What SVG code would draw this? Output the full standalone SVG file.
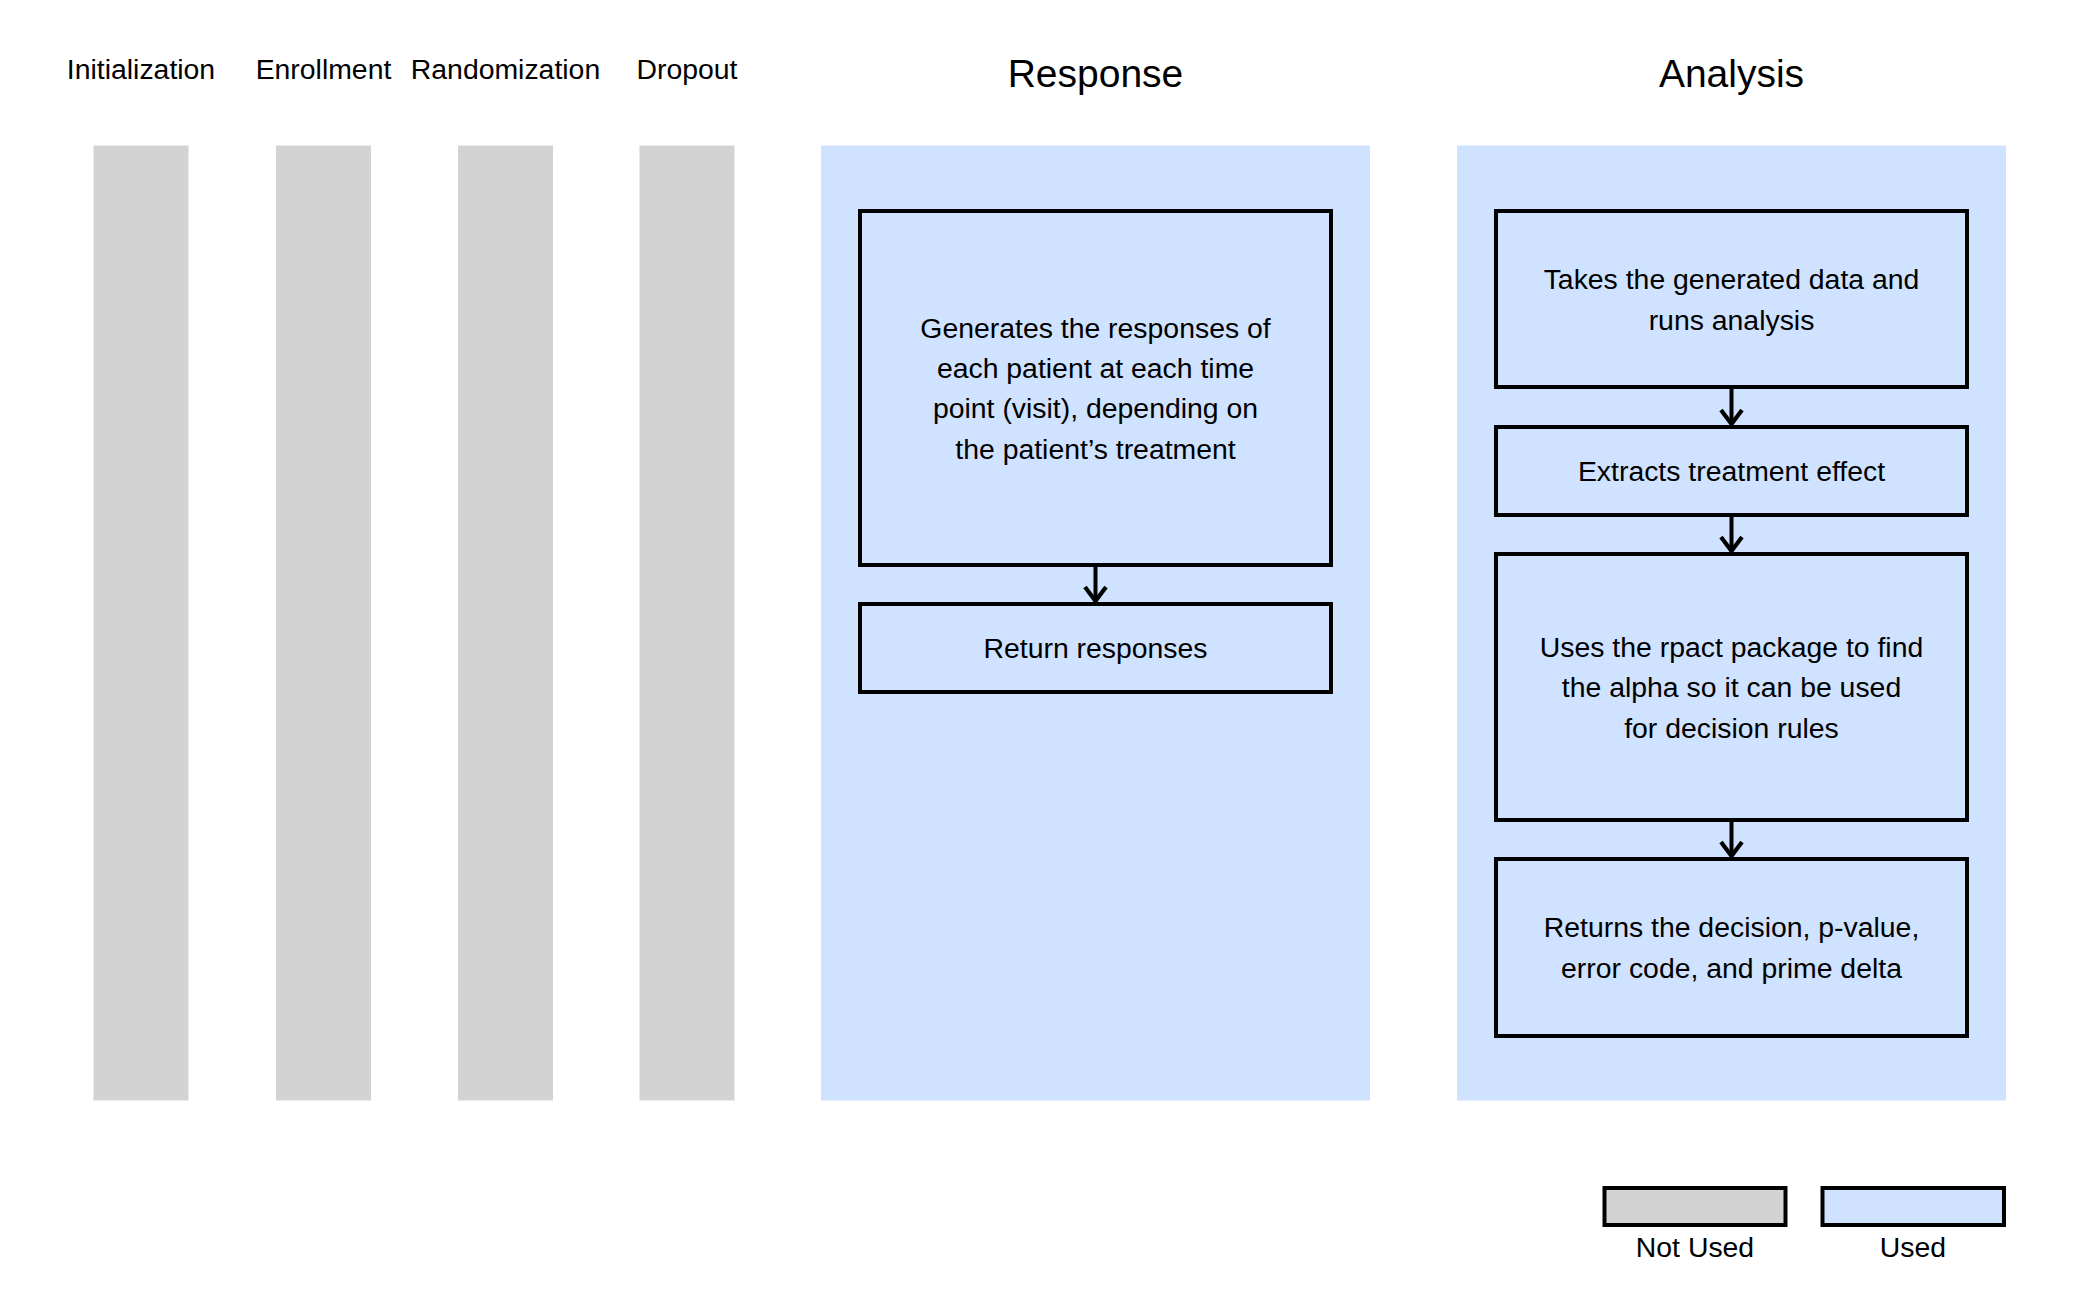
<svg xmlns="http://www.w3.org/2000/svg" width="2100" height="1297" viewBox="0 0 2100 1297">
<style>
text{font-family:"Liberation Sans",Arial,sans-serif;fill:#000;text-anchor:middle}
.lab{font-size:28.4px}
.ttl{font-size:39px}
.t{font-size:28.4px}
.bar{fill:#D3D3D3}
.pan{fill:#CFE2FF}
.box{fill:#CFE2FF;stroke:#000;stroke-width:4}
.lg0{fill:#D3D3D3;stroke:#000;stroke-width:4}
.lg1{fill:#CFE2FF;stroke:#000;stroke-width:4}
.con{fill:none;stroke:#000;stroke-width:4}
</style>
<defs>
<marker id="arr" markerUnits="userSpaceOnUse" markerWidth="26" markerHeight="26" refX="20" refY="13" orient="auto" viewBox="0 0 26 26">
<path d="M6 2.5 L20 13 L6 23.5" fill="none" stroke="#000" stroke-width="4.2"/>
</marker>
</defs>
<rect width="2100" height="1297" fill="#fff"/>
<g id="lane-initialization"><rect class="bar" x="93.5" y="145.5" width="95" height="955"/><text class="lab" x="141" y="79">Initialization</text></g>
<g id="lane-enrollment"><rect class="bar" x="276" y="145.5" width="95" height="955"/><text class="lab" x="323.5" y="79">Enrollment</text></g>
<g id="lane-randomization"><rect class="bar" x="458" y="145.5" width="95" height="955"/><text class="lab" x="505.5" y="79">Randomization</text></g>
<g id="lane-dropout"><rect class="bar" x="639.5" y="145.5" width="95" height="955"/><text class="lab" x="687" y="79">Dropout</text></g>
<g id="lane-response"><rect class="pan" x="821" y="145.5" width="549" height="955"/><text class="ttl" x="1095.5" y="87">Response</text></g>
<g id="lane-analysis"><rect class="pan" x="1457" y="145.5" width="549" height="955"/><text class="ttl" x="1731.5" y="87">Analysis</text></g>
<g id="resp-generate"><rect class="box" x="860" y="211" width="471" height="354"/>
<text class="t" x="1095.5" y="338">Generates the responses of</text>
<text class="t" x="1095.5" y="378">each patient at each time</text>
<text class="t" x="1095.5" y="418">point (visit), depending on</text>
<text class="t" x="1095.5" y="459">the patient’s treatment</text></g>
<g id="resp-return"><rect class="box" x="860" y="604" width="471" height="88"/>
<text class="t" x="1095.5" y="658">Return responses</text></g>
<g id="an-takes"><rect class="box" x="1496" y="211" width="471" height="176"/>
<text class="t" x="1731.5" y="289">Takes the generated data and</text>
<text class="t" x="1731.5" y="330">runs analysis</text></g>
<g id="an-extract"><rect class="box" x="1496" y="427" width="471" height="88"/>
<text class="t" x="1731.5" y="481">Extracts treatment effect</text></g>
<g id="an-rpact"><rect class="box" x="1496" y="554" width="471" height="266"/>
<text class="t" x="1731.5" y="657">Uses the rpact package to find</text>
<text class="t" x="1731.5" y="697">the alpha so it can be used</text>
<text class="t" x="1731.5" y="738">for decision rules</text></g>
<g id="an-returns"><rect class="box" x="1496" y="859" width="471" height="177"/>
<text class="t" x="1731.5" y="937">Returns the decision, p-value,</text>
<text class="t" x="1731.5" y="978">error code, and prime delta</text></g>
<g id="connectors">
<path class="con" d="M1095.5 567 L1095.5 601" marker-end="url(#arr)"/>
<path class="con" d="M1731.5 389 L1731.5 424" marker-end="url(#arr)"/>
<path class="con" d="M1731.5 517 L1731.5 551" marker-end="url(#arr)"/>
<path class="con" d="M1731.5 822 L1731.5 856" marker-end="url(#arr)"/>
</g>
<g id="legend">
<rect class="lg0" x="1604.5" y="1188" width="181" height="37"/>
<text class="t" x="1695" y="1257">Not Used</text>
<rect class="lg1" x="1822.5" y="1188" width="181.5" height="37"/>
<text class="t" x="1913" y="1257">Used</text>
</g>
</svg>
